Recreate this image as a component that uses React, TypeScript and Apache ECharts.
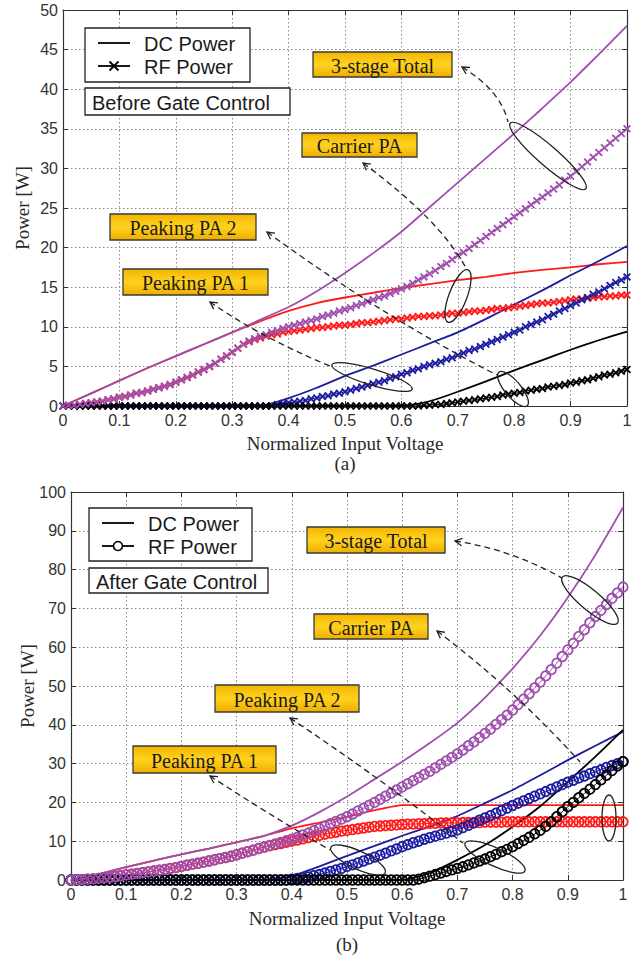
import React, { useEffect, useRef } from "react";
import * as echarts from "echarts";

// ---------- data ----------
const xsDC = [0, 0.05, 0.1, 0.15, 0.2, 0.25, 0.3, 0.35, 0.4, 0.45, 0.5, 0.55, 0.6, 0.65, 0.7, 0.75, 0.8, 0.85, 0.9, 0.95, 1.0];
const xsRF = [
  0, 0.01, 0.02, 0.03, 0.04, 0.05, 0.06, 0.07, 0.08, 0.09,
  0.1, 0.11, 0.12, 0.13, 0.14, 0.15, 0.16, 0.17, 0.18, 0.19,
  0.2, 0.21, 0.22, 0.23, 0.24, 0.25, 0.26, 0.27, 0.28, 0.29,
  0.3, 0.31, 0.32, 0.33, 0.34, 0.35, 0.36, 0.37, 0.38, 0.39,
  0.4, 0.41, 0.42, 0.43, 0.44, 0.45, 0.46, 0.47, 0.48, 0.49,
  0.5, 0.51, 0.52, 0.53, 0.54, 0.55, 0.56, 0.57, 0.58, 0.59,
  0.6, 0.61, 0.62, 0.63, 0.64, 0.65, 0.66, 0.67, 0.68, 0.69,
  0.7, 0.71, 0.72, 0.73, 0.74, 0.75, 0.76, 0.77, 0.78, 0.79,
  0.8, 0.81, 0.82, 0.83, 0.84, 0.85, 0.86, 0.87, 0.88, 0.89,
  0.9, 0.91, 0.92, 0.93, 0.94, 0.95, 0.96, 0.97, 0.98, 0.99,
  1.0,
];

const xTicks = ["0", "0.1", "0.2", "0.3", "0.4", "0.5", "0.6", "0.7", "0.8", "0.9", "1"];

// (a) Before gate control
const aTotalDC = [0, 1.6, 3.2, 4.8, 6.3, 7.8, 9.3, 10.9, 12.5, 14.5, 16.8, 19.3, 22.0, 25.1, 28.2, 31.3, 34.4, 37.6, 40.9, 44.4, 48.0];
const aCarrierDC = [0, 1.6, 3.2, 4.8, 6.3, 7.8, 9.3, 10.7, 12.0, 13.0, 13.7, 14.3, 14.9, 15.4, 15.9, 16.3, 16.8, 17.2, 17.5, 17.9, 18.2];
const aPeak1DC = [0, 0, 0, 0, 0, 0, 0, 0, 1.0, 2.3, 3.8, 5.1, 6.5, 7.9, 9.3, 11.0, 12.8, 14.6, 16.5, 18.3, 20.2];
const aPeak2DC = [0, 0, 0, 0, 0, 0, 0, 0, 0, 0, 0, 0, 0, 0.6, 1.8, 3.1, 4.5, 5.8, 7.1, 8.3, 9.4];

const aTotalRF = [
  0, 0.1, 0.1, 0.2, 0.3, 0.4, 0.5, 0.6, 0.8, 0.9,
  1.1, 1.2, 1.4, 1.6, 1.7, 1.9, 2.1, 2.3, 2.5, 2.7,
  3.0, 3.3, 3.6, 3.9, 4.3, 4.6, 5.0, 5.4, 5.9, 6.3,
  6.8, 7.3, 7.8, 8.2, 8.5, 8.8, 9.0, 9.3, 9.5, 9.8,
  10.0, 10.2, 10.4, 10.6, 10.8, 11.0, 11.3, 11.5, 11.7, 12.0,
  12.2, 12.4, 12.7, 12.9, 13.2, 13.4, 13.7, 13.9, 14.2, 14.5,
  14.8, 15.1, 15.5, 15.9, 16.3, 16.7, 17.1, 17.6, 18.0, 18.5,
  19.0, 19.4, 19.9, 20.4, 20.9, 21.4, 21.9, 22.4, 22.9, 23.4,
  23.9, 24.4, 24.9, 25.4, 25.9, 26.4, 26.9, 27.4, 27.9, 28.5,
  29.0, 29.6, 30.2, 30.8, 31.4, 32.0, 32.6, 33.2, 33.8, 34.4,
  35.0,
];
const aCarrierRF = [
  0, 0.1, 0.1, 0.2, 0.3, 0.4, 0.5, 0.6, 0.8, 0.9,
  1.1, 1.2, 1.4, 1.6, 1.7, 1.9, 2.1, 2.3, 2.5, 2.7,
  3.0, 3.3, 3.6, 3.9, 4.3, 4.6, 5.0, 5.4, 5.9, 6.3,
  6.8, 7.3, 7.8, 8.1, 8.4, 8.6, 8.8, 9.0, 9.1, 9.3,
  9.4, 9.5, 9.6, 9.7, 9.8, 9.9, 9.9, 10.0, 10.1, 10.2,
  10.2, 10.3, 10.4, 10.5, 10.5, 10.6, 10.7, 10.8, 10.9, 11.0,
  11.0, 11.1, 11.2, 11.3, 11.3, 11.4, 11.4, 11.5, 11.6, 11.7,
  11.7, 11.8, 11.9, 12.0, 12.0, 12.1, 12.2, 12.3, 12.3, 12.4,
  12.5, 12.6, 12.7, 12.8, 12.9, 13.0, 13.0, 13.1, 13.2, 13.3,
  13.4, 13.5, 13.5, 13.6, 13.7, 13.8, 13.8, 13.9, 13.9, 14.0,
  14.0,
];
const aPeak1RF = [
  0, 0, 0, 0, 0, 0, 0, 0, 0, 0,
  0, 0, 0, 0, 0, 0, 0, 0, 0, 0,
  0, 0, 0, 0, 0, 0, 0, 0, 0, 0,
  0, 0, 0, 0, 0, 0, 0, 0, 0.2, 0.3,
  0.4, 0.5, 0.6, 0.7, 0.9, 1.0, 1.2, 1.3, 1.5, 1.6,
  1.8, 2.0, 2.2, 2.4, 2.6, 2.8, 3.0, 3.2, 3.5, 3.7,
  4.0, 4.2, 4.5, 4.7, 5.0, 5.2, 5.4, 5.6, 5.9, 6.1,
  6.4, 6.7, 7.0, 7.2, 7.5, 7.8, 8.1, 8.4, 8.7, 9.0,
  9.3, 9.6, 10.0, 10.3, 10.6, 10.9, 11.3, 11.6, 12.0, 12.3,
  12.7, 13.0, 13.4, 13.7, 14.1, 14.4, 14.8, 15.2, 15.6, 15.9,
  16.3,
];
const aPeak2RF = [
  0, 0, 0, 0, 0, 0, 0, 0, 0, 0,
  0, 0, 0, 0, 0, 0, 0, 0, 0, 0,
  0, 0, 0, 0, 0, 0, 0, 0, 0, 0,
  0, 0, 0, 0, 0, 0, 0, 0, 0, 0,
  0, 0, 0, 0, 0, 0, 0, 0, 0, 0,
  0, 0, 0, 0, 0, 0, 0, 0, 0, 0,
  0, 0, 0, 0, 0.1, 0.1, 0.2, 0.2, 0.3, 0.4,
  0.5, 0.6, 0.7, 0.8, 0.9, 1.0, 1.1, 1.2, 1.4, 1.5,
  1.6, 1.7, 1.9, 2.0, 2.1, 2.2, 2.4, 2.5, 2.6, 2.7,
  2.9, 3.0, 3.2, 3.3, 3.5, 3.7, 3.9, 4.0, 4.2, 4.4,
  4.6,
];

// (b) After gate control
const bTotalDC = [0, 1.5, 3.3, 5.0, 6.6, 8.1, 9.7, 11.4, 14.0, 17.5, 21.5, 26.0, 30.5, 35.3, 40.5, 47.0, 54.5, 63.0, 72.8, 83.8, 96.0];
const bCarrierDC = [0, 1.5, 3.3, 5.0, 6.6, 8.1, 9.7, 11.4, 13.3, 14.8, 16.3, 18.0, 19.3, 19.3, 19.3, 19.3, 19.3, 19.3, 19.3, 19.3, 19.3];
const bPeak1DC = [0, 0, 0, 0, 0, 0, 0, 0, 1.0, 3.5, 6.2, 8.8, 11.4, 13.8, 16.5, 19.8, 23.2, 27.0, 30.9, 34.6, 38.2];
const bPeak2DC = [0, 0, 0, 0, 0, 0, 0, 0, 0, 0, 0, 0, 0, 1.8, 5.2, 9.0, 13.7, 19.0, 25.3, 31.8, 38.7];

const bTotalRF = [
  0, 0.1, 0.1, 0.2, 0.3, 0.4, 0.6, 0.7, 0.9, 1.1,
  1.3, 1.5, 1.7, 1.9, 2.1, 2.3, 2.5, 2.7, 3.0, 3.2,
  3.5, 3.8, 4.1, 4.3, 4.6, 4.9, 5.2, 5.5, 5.8, 6.1,
  6.5, 6.9, 7.3, 7.7, 8.1, 8.5, 8.9, 9.3, 9.7, 10.1,
  10.5, 11.0, 11.6, 12.1, 12.7, 13.3, 13.9, 14.5, 15.1, 15.7,
  16.3, 17.0, 17.8, 18.5, 19.3, 20.0, 20.8, 21.6, 22.4, 23.2,
  24.0, 24.8, 25.6, 26.4, 27.2, 28.0, 28.9, 29.8, 30.7, 31.6,
  32.5, 33.5, 34.6, 35.6, 36.7, 37.8, 38.9, 40.1, 41.3, 42.5,
  43.8, 45.2, 46.6, 48.0, 49.5, 51.0, 52.6, 54.2, 55.9, 57.6,
  59.3, 61.0, 62.8, 64.5, 66.3, 67.9, 69.5, 71.0, 72.6, 74.0,
  75.5,
];
const bCarrierRF = [
  0, 0.1, 0.1, 0.2, 0.3, 0.4, 0.6, 0.7, 0.9, 1.1,
  1.3, 1.5, 1.7, 1.9, 2.1, 2.3, 2.5, 2.7, 3.0, 3.2,
  3.5, 3.8, 4.1, 4.3, 4.6, 4.9, 5.2, 5.5, 5.8, 6.1,
  6.5, 6.9, 7.3, 7.7, 8.1, 8.5, 8.8, 9.1, 9.4, 9.7,
  10.0, 10.3, 10.6, 10.9, 11.2, 11.5, 11.8, 12.1, 12.3, 12.6,
  12.8, 13.0, 13.2, 13.4, 13.6, 13.8, 13.9, 14.0, 14.1, 14.2,
  14.3, 14.4, 14.4, 14.5, 14.5, 14.6, 14.6, 14.7, 14.7, 14.7,
  14.7, 14.8, 14.8, 14.8, 14.8, 14.9, 14.9, 14.9, 14.9, 15.0,
  15.0, 15.0, 15.0, 15.0, 15.0, 15.0, 15.0, 15.0, 15.0, 15.0,
  15.0, 15.0, 15.0, 15.0, 15.0, 15.0, 15.0, 15.0, 15.0, 15.0,
  15.0,
];
const bPeak1RF = [
  0, 0, 0, 0, 0, 0, 0, 0, 0, 0,
  0, 0, 0, 0, 0, 0, 0, 0, 0, 0,
  0, 0, 0, 0, 0, 0, 0, 0, 0, 0,
  0, 0, 0, 0, 0, 0, 0, 0, 0, 0,
  0.2, 0.4, 0.6, 0.8, 1.1, 1.4, 1.8, 2.2, 2.6, 3.0,
  3.5, 3.9, 4.4, 4.9, 5.4, 5.9, 6.4, 6.9, 7.5, 8.0,
  8.6, 9.1, 9.6, 10.0, 10.5, 10.9, 11.3, 11.7, 12.1, 12.5,
  12.9, 13.5, 14.1, 14.7, 15.4, 16.0, 16.6, 17.2, 17.9, 18.5,
  19.2, 19.8, 20.4, 21.0, 21.6, 22.2, 22.8, 23.4, 24.0, 24.6,
  25.2, 25.7, 26.3, 26.8, 27.4, 27.9, 28.4, 29.0, 29.5, 30.0,
  30.5,
];
const bPeak2RF = [
  0, 0, 0, 0, 0, 0, 0, 0, 0, 0,
  0, 0, 0, 0, 0, 0, 0, 0, 0, 0,
  0, 0, 0, 0, 0, 0, 0, 0, 0, 0,
  0, 0, 0, 0, 0, 0, 0, 0, 0, 0,
  0, 0, 0, 0, 0, 0, 0, 0, 0, 0,
  0, 0, 0, 0, 0, 0, 0, 0, 0, 0,
  0, 0, 0, 0.2, 0.6, 1.0, 1.4, 1.8, 2.2, 2.6,
  3.0, 3.4, 3.9, 4.4, 4.9, 5.4, 6.0, 6.6, 7.3, 7.9,
  8.6, 9.4, 10.2, 11.0, 11.9, 12.8, 13.8, 15.0, 16.3, 17.6,
  18.9, 20.0, 21.2, 22.3, 23.4, 24.6, 25.8, 27.0, 28.2, 29.4,
  30.5,
];

// ---------- styling ----------
const SERIF = '"Liberation Serif", "Times New Roman", serif';
const SANS = '"Liberation Sans", Arial, sans-serif';
const C_RED = "#FF1A1A";
const C_BLUE = "#1C1CA0";
const C_BLACK = "#000000";
const C_PURPLE = "#9E4FAE";
const CROSS = "path://M0,1.6L1.6,0L5,3.4L8.4,0L10,1.6L6.6,5L10,8.4L8.4,10L5,6.6L1.6,10L0,8.4L3.4,5Z";

const pairs = (xs: number[], ys: number[]) => xs.map((x, i) => [x, ys[i]]);

function dcSeries(grid: number, ys: number[], color: string) {
  return {
    type: "line",
    xAxisIndex: grid * 2,
    yAxisIndex: grid * 2,
    data: pairs(xsDC, ys),
    showSymbol: false,
    smooth: 0.15,
    lineStyle: { color, width: 1.8 },
    itemStyle: { color },
    silent: true,
  };
}

function rfSeries(grid: number, ys: number[], color: string) {
  const base: any = {
    type: "line",
    xAxisIndex: grid * 2,
    yAxisIndex: grid * 2,
    data: pairs(xsRF, ys),
    showSymbol: true,
    showAllSymbol: true,
    lineStyle: { color, width: 1 },
    silent: true,
  };
  if (grid === 0) {
    base.symbol = CROSS;
    base.symbolSize = 8;
    base.itemStyle = { color };
  } else {
    base.symbol = "circle";
    base.symbolSize = 9.5;
    base.itemStyle = { color: "rgba(0,0,0,0)", borderColor: color, borderWidth: 1.8 };
  }
  return base;
}

const axisLineStyle = { show: true, onZero: false, lineStyle: { color: "#333", width: 1.2 } };
const tickStyle = { show: true, inside: true, length: 5, lineStyle: { color: "#333", width: 1 } };
const gridLine = { show: true, lineStyle: { type: [1.5, 2.5], color: "#8a8a8a", width: 1 } };

function xAxes(grid: number) {
  return [
    {
      type: "value",
      gridIndex: grid,
      position: "bottom",
      min: 0,
      max: 1,
      interval: 0.1,
      axisLine: axisLineStyle,
      axisTick: tickStyle,
      axisLabel: {
        formatter: (v: number) => xTicks[Math.round(v * 10)],
        fontFamily: SANS,
        fontSize: 16,
        color: "#333",
        margin: 6,
      },
      splitLine: gridLine,
    },
    {
      type: "value",
      gridIndex: grid,
      position: "top",
      min: 0,
      max: 1,
      interval: 0.1,
      axisLine: axisLineStyle,
      axisTick: tickStyle,
      axisLabel: { show: false },
      splitLine: { show: false },
    },
  ];
}

function yAxes(grid: number, max: number, interval: number) {
  return [
    {
      type: "value",
      gridIndex: grid,
      position: "left",
      min: 0,
      max,
      interval,
      axisLine: axisLineStyle,
      axisTick: tickStyle,
      axisLabel: { fontFamily: SANS, fontSize: 16, color: "#333", margin: 5 },
      splitLine: gridLine,
    },
    {
      type: "value",
      gridIndex: grid,
      position: "right",
      min: 0,
      max,
      interval,
      axisLine: axisLineStyle,
      axisTick: tickStyle,
      axisLabel: { show: false },
      splitLine: { show: false },
    },
  ];
}

// ---------- annotations (pixel layout) ----------
const GOLD = {
  type: "linear",
  x: 0,
  y: 0,
  x2: 0,
  y2: 1,
  colorStops: [
    { offset: 0, color: "#F2B500" },
    { offset: 0.5, color: "#FFD21F" },
    { offset: 1, color: "#EFAE00" },
  ],
};

function goldBox(label: string, x: number, y: number, w: number, h: number) {
  return [
    { type: "rect", z: 100, shape: { x, y, width: w, height: h }, style: { fill: GOLD, stroke: "#3a3a3a", lineWidth: 1.3 } },
    {
      type: "text",
      z: 101,
      style: { text: label, x: x + w / 2, y: y + h / 2 + 1, align: "center", verticalAlign: "middle", font: `20px ${SERIF}`, fill: "#1a1a1a" },
    },
  ];
}

function ellipse(cx: number, cy: number, rx: number, ry: number, deg: number) {
  return {
    type: "ellipse",
    z: 100,
    x: cx,
    y: cy,
    rotation: (deg * Math.PI) / 180,
    shape: { cx: 0, cy: 0, rx, ry },
    style: { fill: null, stroke: "#222", lineWidth: 1.3 },
  };
}

function arrow(tip: number[], ctrl: number[], end: number[]) {
  const dx = tip[0] - ctrl[0];
  const dy = tip[1] - ctrl[1];
  const L = Math.hypot(dx, dy);
  const ux = dx / L;
  const uy = dy / L;
  const a = (28 * Math.PI) / 180;
  const len = 8;
  const r = (s: number) => [ux * Math.cos(s) - uy * Math.sin(s), ux * Math.sin(s) + uy * Math.cos(s)];
  const w1 = r(a);
  const w2 = r(-a);
  return [
    {
      type: "bezierCurve",
      z: 100,
      shape: { x1: tip[0], y1: tip[1], x2: end[0], y2: end[1], cpx1: ctrl[0], cpy1: ctrl[1] },
      style: { stroke: "#222", lineWidth: 1.3, lineDash: [6, 4], fill: null },
    },
    {
      type: "polyline",
      z: 100,
      shape: { points: [[tip[0] - len * w1[0], tip[1] - len * w1[1]], [tip[0], tip[1]], [tip[0] - len * w2[0], tip[1] - len * w2[1]]] },
      style: { stroke: "#222", lineWidth: 1.3, fill: null },
    },
  ];
}

function legendBlock(x: number, y: number, w: number, h: number, rfMarker: "cross" | "circle", gx: number, gy: number, gw: number, gh: number, gLabel: string) {
  const lx1 = x + 13;
  const lx2 = x + 45;
  const y1 = y + 15;
  const y2 = y + 38;
  const mx = (lx1 + lx2) / 2;
  const marker =
    rfMarker === "cross"
      ? [
          { type: "line", z: 102, shape: { x1: mx - 4.5, y1: y2 - 4.5, x2: mx + 4.5, y2: y2 + 4.5 }, style: { stroke: "#000", lineWidth: 2 } },
          { type: "line", z: 102, shape: { x1: mx - 4.5, y1: y2 + 4.5, x2: mx + 4.5, y2: y2 - 4.5 }, style: { stroke: "#000", lineWidth: 2 } },
        ]
      : [{ type: "circle", z: 102, shape: { cx: mx, cy: y2, r: 4.5 }, style: { fill: "#fff", stroke: "#000", lineWidth: 1.6 } }];
  return [
    { type: "rect", z: 100, shape: { x, y, width: w, height: h }, style: { fill: "#fff", stroke: "#222", lineWidth: 1.3 } },
    { type: "line", z: 101, shape: { x1: lx1, y1, x2: lx2, y2: y1 }, style: { stroke: "#000", lineWidth: 1.8 } },
    { type: "text", z: 101, style: { text: "DC Power", x: x + 59, y: y1 + 1, verticalAlign: "middle", font: `20px ${SANS}`, fill: "#1a1a1a" } },
    { type: "line", z: 101, shape: { x1: lx1, y1: y2, x2: lx2, y2 }, style: { stroke: "#000", lineWidth: 1.8 } },
    ...marker,
    { type: "text", z: 101, style: { text: "RF Power", x: x + 59, y: y2 + 1, verticalAlign: "middle", font: `20px ${SANS}`, fill: "#1a1a1a" } },
    { type: "rect", z: 100, shape: { x: gx, y: gy, width: gw, height: gh }, style: { fill: "#fff", stroke: "#222", lineWidth: 1.3 } },
    { type: "text", z: 101, style: { text: gLabel, x: gx + 7, y: gy + gh / 2 + 1, verticalAlign: "middle", font: `20px ${SANS}`, fill: "#1a1a1a" } },
  ];
}

function axisTexts() {
  const t = (text: string, x: number, y: number, rot = 0) => ({
    type: "text",
    z: 101,
    x,
    y,
    rotation: rot,
    style: { text, x: 0, y: 0, align: "center", verticalAlign: "middle", font: `19px ${SERIF}`, fill: "#2a2a2a" },
  });
  return [
    t("Normalized Input Voltage", 345, 443),
    t("(a)", 345, 463),
    t("Power [W]", 22, 208, Math.PI / 2),
    t("Normalized Input Voltage", 347, 918),
    t("(b)", 347, 944),
    t("Power [W]", 27, 686, Math.PI / 2),
  ];
}

export default function App() {
  const ref = useRef<HTMLDivElement>(null);

  useEffect(() => {
    if (!ref.current) return;
    const chart = echarts.init(ref.current, undefined, { renderer: "svg" });

    const graphic: any[] = [
      ...legendBlock(85, 28, 165, 54, "cross", 85, 88, 205, 27, "Before Gate Control"),
      ...goldBox("3-stage Total", 313, 52, 139, 25),
      ...goldBox("Carrier PA", 302, 133, 115, 24),
      ...goldBox("Peaking PA 2", 110, 214, 146, 26),
      ...goldBox("Peaking PA 1", 123, 269, 145, 26),
      ellipse(548, 156, 50, 10, -41),
      ellipse(458, 296, 28, 9, 69),
      ellipse(513, 389, 22, 8, -50),
      ellipse(372, 377, 42, 8, -17),
      ...arrow([462, 67], [501, 91], [508, 122]),
      ...arrow([363, 163], [440, 220], [466, 268]),
      ...arrow([267, 232], [388, 320], [497, 375]),
      ...arrow([210, 302], [262, 338], [330, 366]),

      ...legendBlock(89, 508, 163, 53, "circle", 89, 568, 179, 25, "After Gate Control"),
      ...goldBox("3-stage Total", 307, 527, 138, 26),
      ...goldBox("Carrier PA", 314, 614, 114, 25),
      ...goldBox("Peaking PA 2", 215, 685, 144, 27),
      ...goldBox("Peaking PA 1", 133, 746, 143, 27),
      ellipse(590, 600, 36, 10, -40),
      ellipse(609, 818, 7, 23, 0),
      ellipse(495, 857, 33, 9, -25),
      ellipse(358, 860, 30, 9, -25),
      ...arrow([455, 541], [510, 549], [562, 578]),
      ...arrow([437, 631], [515, 690], [580, 762]),
      ...arrow([290, 718], [380, 778], [463, 843]),
      ...arrow([210, 776], [265, 812], [330, 850]),
      ...axisTexts(),
    ];

    chart.setOption({
      animation: false,
      backgroundColor: "#ffffff",
      grid: [
        { left: 63, top: 10, width: 564, height: 396, containLabel: false },
        { left: 71, top: 492, width: 552, height: 388, containLabel: false },
      ],
      xAxis: [...xAxes(0), ...xAxes(1)],
      yAxis: [...yAxes(0, 50, 5), ...yAxes(1, 100, 10)],
      series: [
        dcSeries(0, aCarrierDC, C_RED),
        rfSeries(0, aCarrierRF, C_RED),
        dcSeries(0, aPeak1DC, C_BLUE),
        rfSeries(0, aPeak1RF, C_BLUE),
        dcSeries(0, aPeak2DC, C_BLACK),
        rfSeries(0, aPeak2RF, C_BLACK),
        dcSeries(0, aTotalDC, C_PURPLE),
        rfSeries(0, aTotalRF, C_PURPLE),
        dcSeries(1, bCarrierDC, C_RED),
        rfSeries(1, bCarrierRF, C_RED),
        dcSeries(1, bPeak1DC, C_BLUE),
        rfSeries(1, bPeak1RF, C_BLUE),
        dcSeries(1, bPeak2DC, C_BLACK),
        rfSeries(1, bPeak2RF, C_BLACK),
        dcSeries(1, bTotalDC, C_PURPLE),
        rfSeries(1, bTotalRF, C_PURPLE),
      ],
      graphic,
    });

    return () => chart.dispose();
  }, []);

  return <div ref={ref} style={{ position: "absolute", left: 0, top: 0, width: 641, height: 958 }} />;
}
